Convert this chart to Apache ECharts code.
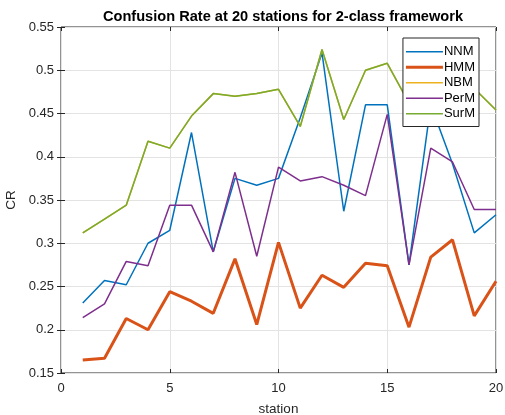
<!DOCTYPE html>
<html>
<head>
<meta charset="utf-8">
<script src="https://cdn.jsdelivr.net/npm/echarts@6/dist/echarts.min.js"></script>
<style>html,body{margin:0;padding:0;background:#fff}#c{width:505px;height:415px}</style>
</head>
<body>
<div id="c"></div>
<script>
var stations = [1,2,3,4,5,6,7,8,9,10,11,12,13,14,15,16,17,18,19,20];
var seriesNames = ['NNM','HMM','NBM','PerM','SurM'];
var NNM  = [0.231,0.257,0.252,0.300,0.315,0.428,0.290,0.375,0.367,0.375,0.445,0.520,0.337,0.460,0.460,0.275,0.460,0.392,0.312,0.333];
var HMM  = [0.165,0.167,0.213,0.200,0.244,0.233,0.219,0.282,0.206,0.301,0.225,0.263,0.249,0.277,0.274,0.203,0.284,0.304,0.216,0.256];
var NBM  = [0.312,0.328,0.344,0.418,0.410,0.447,0.473,0.470,0.473,0.478,0.435,0.524,0.443,0.500,0.508,0.462,0.470,0.490,0.479,0.454];
var PerM = [0.214,0.230,0.279,0.274,0.344,0.344,0.290,0.382,0.285,0.388,0.372,0.377,0.367,0.355,0.449,0.275,0.410,0.394,0.339,0.339];
var SurM = [0.312,0.328,0.344,0.418,0.410,0.447,0.473,0.470,0.473,0.478,0.435,0.524,0.443,0.500,0.508,0.462,0.470,0.490,0.479,0.454];
var xTicks = [0,5,10,15,20];
var yTicks = [0.15,0.2,0.25,0.3,0.35,0.4,0.45,0.5,0.55];

var colors = ['#0072BD','#D95319','#EDB120','#7E2F8E','#77AC30'];
var widths = [1.5,3,1.5,1.5,1.5];
var values = [NNM,HMM,NBM,PerM,SurM];
var font = 'Liberation Sans, Arial, sans-serif';
function pairs(v){return stations.map(function(s,i){return [s,v[i]];});}
function fmt(v){return String(parseFloat(v.toFixed(2)));}

var chart = echarts.init(document.getElementById('c'), null, {renderer:'canvas'});
chart.setOption({
  animation:false,
  backgroundColor:'#fff',
  title:{text:'Confusion Rate at 20 stations for 2-class framework', left:278, top:4, textAlign:'center',
    textStyle:{fontFamily:font, fontSize:14.6, fontWeight:'bold', color:'#000'}},
  grid:{left:61, right:9, top:27, bottom:42, show:true, borderColor:'#262626', borderWidth:1,
    containLabel:false, outerBoundsMode:'none'},
  legend:{orient:'vertical', right:26, top:38, itemWidth:37, itemHeight:10, itemGap:2, z:20,
    data: seriesNames.map(function(n,i){
      var h = widths[i] > 2 ? 3 : 1.6;
      return {name:n, icon:'path://M0,0 L37,0 L37,' + h + ' L0,' + h + ' Z'};
    }),
    backgroundColor:'#fff', borderColor:'#262626', borderWidth:1, padding:[7,4,6,3],
    textStyle:{fontFamily:font, fontSize:13, color:'#000', padding:[0,0,0,-4], lineHeight:13.5}},
  xAxis:[
    {type:'value', min:0, max:20, interval:5, position:'bottom',
      name:'station', nameLocation:'middle', nameGap:29,
      nameTextStyle:{fontFamily:font, fontSize:13.5, color:'#262626'},
      axisLine:{show:false},
      axisTick:{show:true, inside:true, length:4, lineStyle:{color:'#262626'}},
      axisLabel:{fontFamily:font, fontSize:13, color:'#262626', margin:9},
      splitLine:{show:true, lineStyle:{color:'#e3e3e3', width:1}}},
    {type:'value', min:0, max:20, interval:5, position:'top', axisLabel:{show:false},
      axisLine:{show:false}, splitLine:{show:false},
      axisTick:{show:true, inside:true, length:4, lineStyle:{color:'#262626'}}}
  ],
  yAxis:[
    {type:'value', min:0.15, max:0.55, interval:0.05, position:'left',
      name:'CR', nameLocation:'middle', nameGap:36, nameRotate:90,
      nameTextStyle:{fontFamily:font, fontSize:13.5, color:'#262626'},
      axisLine:{show:false},
      axisTick:{show:true, inside:true, length:4, lineStyle:{color:'#262626'}},
      axisLabel:{fontFamily:font, fontSize:13, color:'#262626', margin:7, formatter:fmt},
      splitLine:{show:true, lineStyle:{color:'#e3e3e3', width:1}}},
    {type:'value', min:0.15, max:0.55, interval:0.05, position:'right',
      axisLabel:{show:false}, axisLine:{show:false}, splitLine:{show:false},
      axisTick:{show:true, inside:true, length:4, lineStyle:{color:'#262626'}}}
  ],
  series: seriesNames.map(function(n,i){
    return {name:n, type:'line', data:pairs(values[i]), symbol:'none', xAxisIndex:0, yAxisIndex:0,
      color:colors[i], lineStyle:{color:colors[i], width:widths[i]}, z:2};
  })
});
</script>
</body>
</html>
